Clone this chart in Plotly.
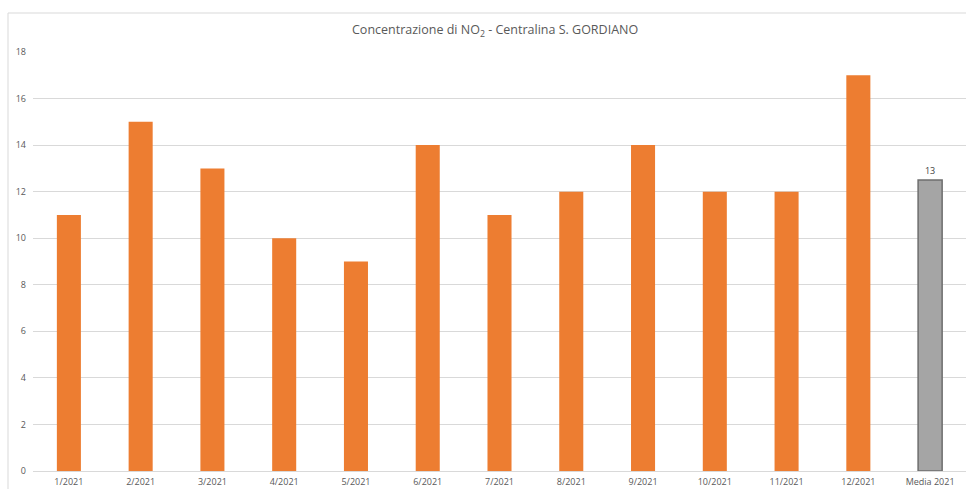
import plotly.graph_objects as go

months = ["1/2021", "2/2021", "3/2021", "4/2021", "5/2021", "6/2021", "7/2021",
          "8/2021", "9/2021", "10/2021", "11/2021", "12/2021"]
month_values = [11, 15, 13, 10, 9, 14, 11, 12, 14, 12, 12, 17]
media_category = ["Media 2021"]
media_value = [12.5]
media_label = ["13"]
y_ticks = [0, 2, 4, 6, 8, 10, 12, 14, 16, 18]

fig = go.Figure()
fig.add_trace(go.Bar(
    x=months, y=month_values,
    marker=dict(color="#ED7D31", line=dict(width=0)),
    hoverinfo="x+y",
))
fig.add_trace(go.Bar(
    x=media_category, y=media_value,
    marker=dict(color="#A5A5A5", line=dict(color="#6E6E6E", width=1.5)),
    text=media_label, textposition="outside", cliponaxis=False,
    textfont=dict(size=9, color="#404040", family="Open Sans"),
    hoverinfo="x+y",
))

fig.update_layout(
    width=966, height=489,
    margin=dict(l=33, r=0, t=52, b=18),
    paper_bgcolor="white", plot_bgcolor="white",
    barmode="relative",
    bargap=0.665,
    showlegend=False,
    font=dict(family="Open Sans", color="#595959", size=9),
    xaxis=dict(categoryorder="array", categoryarray=months + media_category,
               showgrid=False, showline=True, linecolor="#D9D9D9", linewidth=1,
               ticks="", tickfont=dict(size=9, color="#595959"), ticklabelstandoff=2),
    yaxis=dict(range=[0, 18], tickvals=y_ticks, showgrid=True, gridcolor="#D9D9D9",
               gridwidth=1, zeroline=False, showline=False, ticks="",
               tickfont=dict(size=9, color="#595959"), ticklabelstandoff=6),
    shapes=[dict(type="rect", xref="paper", yref="paper",
                 x0=(8 - 33) / 933, x1=1.2, y0=-0.2, y1=(471 - 13) / 419,
                 line=dict(color="#D9D9D9", width=1), fillcolor="rgba(0,0,0,0)", layer="below")],
    annotations=[dict(text="Concentrazione di NO<sub>2</sub> - Centralina S. GORDIANO",
                      xref="paper", yref="paper", x=(494.5 - 33) / 933, y=(471 - 31) / 419,
                      xanchor="center", yanchor="middle", showarrow=False,
                      font=dict(size=12.5, color="#595959", family="Open Sans"))],
)

fig.write_html("out.html")
